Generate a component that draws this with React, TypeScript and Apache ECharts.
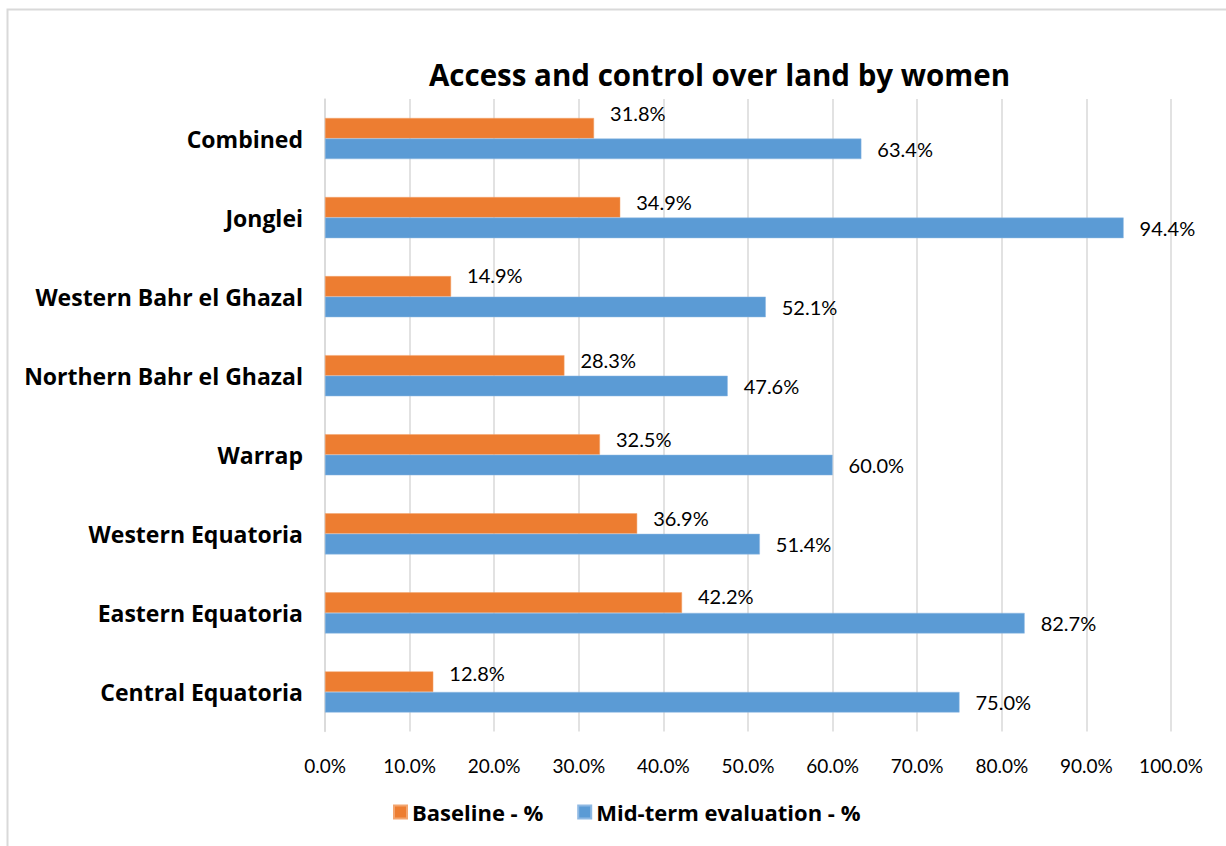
import React, { useEffect, useRef } from "react";
import * as echarts from "echarts";

const categories = [
  "Central Equatoria",
  "Eastern Equatoria",
  "Western Equatoria",
  "Warrap",
  "Northern Bahr el Ghazal",
  "Western Bahr el Ghazal",
  "Jonglei",
  "Combined",
];
const baseline = [12.8, 42.2, 36.9, 32.5, 28.3, 14.9, 34.9, 31.8];
const midterm = [75.0, 82.7, 51.4, 60.0, 47.6, 52.1, 94.4, 63.4];
const xTicks = { min: 0, max: 100, interval: 10 };

// vertical nudges of the baseline labels (as placed in the original)
const baselineLabelDy = [-9, -7, -6, -6, -5, -11, -5, -15];

const FONT = "Lato, 'Open Sans', sans-serif";
const BOLD = "'Open Sans', Lato, sans-serif";

export default function App() {
  const ref = useRef<HTMLDivElement>(null);
  useEffect(() => {
    if (!ref.current) return;
    const chart = echarts.init(ref.current, undefined, { renderer: "svg" });
    const labelFmt = (p: any) => Number(p.value).toFixed(1) + "%";
    chart.setOption({
      animation: false,
      textStyle: { fontFamily: FONT },
      title: {
        text: "Access and control over land by women",
        left: 424,
        top: 54,
        textStyle: { fontSize: 29.5, fontWeight: "bold", color: "#000", fontFamily: BOLD },
      },
      graphic: [
        {
          type: "rect",
          shape: { x: 7.5, y: 9.5, width: 1400, height: 1000 },
          style: { fill: "none", stroke: "#d9d9d9", lineWidth: 2 },
          silent: true,
        },
      ],
      legend: {
        data: ["Baseline - %", "Mid-term evaluation - %"],
        left: 388,
        top: 796,
        itemWidth: 13,
        itemHeight: 13,
        itemGap: 34,
        icon: "rect",
        textStyle: { fontSize: 22, fontWeight: "bold", color: "#000", fontFamily: BOLD },
      },
      grid: { left: 325, right: 55, top: 99, bottom: 114.5, containLabel: false },
      xAxis: {
        type: "value",
        min: xTicks.min,
        max: xTicks.max,
        interval: xTicks.interval,
        axisLine: { show: false },
        axisTick: { show: false },
        splitLine: { show: true, lineStyle: { color: "#d9d9d9", width: 1.5 } },
        axisLabel: {
          formatter: (v: number) => v.toFixed(1) + "%",
          fontSize: 19,
          color: "#000",
          margin: 24,
          fontFamily: FONT,
        },
      },
      yAxis: {
        type: "category",
        data: categories,
        axisTick: { show: false },
        axisLine: { show: true, lineStyle: { color: "#d9d9d9", width: 1.5 } },
        axisLabel: { fontSize: 23, fontWeight: "bold", color: "#000", margin: 22, fontFamily: BOLD },
      },
      series: [
        {
          name: "Baseline - %",
          type: "bar",
          data: baseline.map((v, i) => ({
            value: v,
            label: { offset: [0, baselineLabelDy[i]] },
          })),
          barGap: "0%",
          barCategoryGap: "48%",
          itemStyle: { color: "#ED7D31", borderColor: "#f3a56f", borderWidth: 0.5 },
          label: {
            show: true,
            position: "right",
            distance: 16,
            formatter: labelFmt,
            fontSize: 20,
            color: "#000",
            fontFamily: FONT,
          },
        },
        {
          name: "Mid-term evaluation - %",
          type: "bar",
          data: midterm,
          barGap: "0%",
          barCategoryGap: "48%",
          itemStyle: { color: "#5B9BD5", borderColor: "#8fb9e3", borderWidth: 0.5 },
          label: {
            show: true,
            position: "right",
            distance: 16,
            offset: [0, 0],
            formatter: labelFmt,
            fontSize: 20,
            color: "#000",
            fontFamily: FONT,
          },
        },
      ],
    });
    return () => chart.dispose();
  }, []);
  return (
    <div
      ref={ref}
      style={{ position: "fixed", left: 0, top: 0, width: 1226, height: 846, background: "#fff" }}
    />
  );
}
